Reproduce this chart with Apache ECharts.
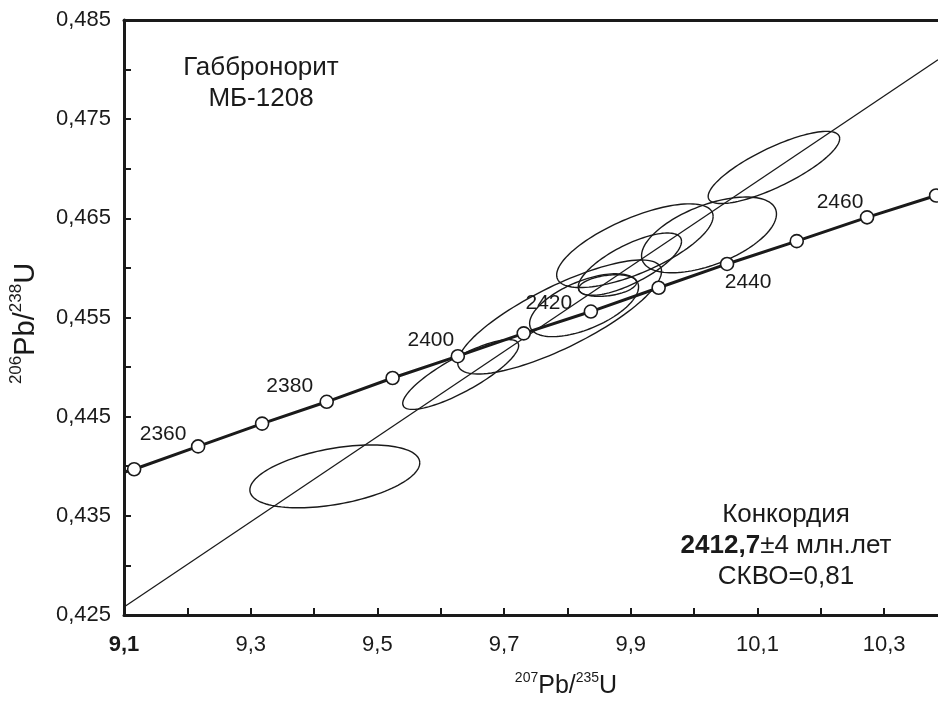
<!DOCTYPE html>
<html>
<head>
<meta charset="utf-8">
<script src="https://cdn.jsdelivr.net/npm/echarts@6/dist/echarts.min.js"></script>
<style>
  html, body { margin: 0; padding: 0; background: #fff; }
  #chart { width: 938px; height: 704px; }
</style>
</head>
<body>
<div id="chart"></div>
<script>
// Tick labels on the axes
const xTicks = [9.1, 9.3, 9.5, 9.7, 9.9, 10.1, 10.3];
const yTicks = [0.425, 0.435, 0.445, 0.455, 0.465, 0.475, 0.485];

// Concordia: ages (Ma) and isotope ratios of the 10 Ma markers
const ages       = [2350, 2360, 2370, 2380, 2390, 2400, 2410, 2420, 2430, 2440, 2450, 2460, 2470];
const concordiaX = [9.116, 9.217, 9.318, 9.420, 9.524, 9.627, 9.731, 9.837, 9.944, 10.052, 10.162, 10.273, 10.382];
const concordiaY = [0.4397, 0.4420, 0.4443, 0.4465, 0.4489, 0.4511, 0.4534, 0.4556, 0.4580, 0.4604, 0.4627, 0.4651, 0.4673];
// where the curve meets the left frame
const concordiaEdge = [9.1, 0.4394];
// ages that carry a label
const labelledAges = [2360, 2380, 2400, 2420, 2440, 2460];

// Analyses: 207Pb/235U, 2σ, 206Pb/238U, 2σ, error correlation
const ellipseX   = [9.4328, 10.126, 9.9065, 10.0235, 9.8986, 9.8634, 9.8263, 9.7877, 9.6315];
const ellipseSX  = [0.1341, 0.1038, 0.1235, 0.1065, 0.0815, 0.0457, 0.0860, 0.1609, 0.0915];
const ellipseY   = [0.43898, 0.47013, 0.46224, 0.46333, 0.46038, 0.45822, 0.45624, 0.45505, 0.44925];
const ellipseSY  = [0.00317, 0.00364, 0.00422, 0.00382, 0.00314, 0.00109, 0.00317, 0.00575, 0.00352];
const ellipseRho = [0.43, 0.80, 0.70, 0.55, 0.73, 0.30, 0.58, 0.80, 0.83];

// Regression line through the analyses
const regressionX = [9.1, 10.385];
const regressionY = [0.4258, 0.4810];

// Label placement for the age markers (pixel offsets from the marker)
const ageLabelOffset = {
  2360: [-35, -12], 2380: [-37, -16], 2400: [-27, -16],
  2420: [-42, -8], 2440: [21, 18], 2460: [-27, -15]
};

const FONT = '"Liberation Sans", Arial, Helvetica, sans-serif';
const INK = '#1a1a1a';

const near = (a, b) => Math.abs(a - b) < 1e-7;

const concordiaData = [{ value: concordiaEdge, symbol: 'none' }].concat(
  ages.map((age, i) => {
    const item = { value: [concordiaX[i], concordiaY[i]] };
    if (labelledAges.includes(age)) {
      item.label = {
        show: true,
        position: 'inside',
        offset: ageLabelOffset[age],
        formatter: String(age),
        color: INK,
        fontSize: 21,
        fontFamily: FONT
      };
    }
    return item;
  })
);

const ellipseData = ellipseX.map((x, i) => [x, ellipseSX[i], ellipseY[i], ellipseSY[i], ellipseRho[i]]);

const supRichX = {
  sup: { fontSize: 14, lineHeight: 16, verticalAlign: 'top', fontFamily: FONT, color: INK },
  base: { fontSize: 25, lineHeight: 28, verticalAlign: 'bottom', fontFamily: FONT, color: INK }
};
const supRichY = {
  sup: { fontSize: 17, lineHeight: 18, verticalAlign: 'top', fontFamily: FONT, color: INK },
  base: { fontSize: 29, lineHeight: 32, verticalAlign: 'bottom', fontFamily: FONT, color: INK }
};

const chart = echarts.init(document.getElementById('chart'), null, { renderer: 'canvas' });

chart.setOption({
  animation: false,
  backgroundColor: '#ffffff',
  grid: { left: 122, right: 0, top: 20, bottom: 79 },
  xAxis: [
    {
      type: 'value',
      min: 9.1,
      max: 10.385,
      interval: 0.1,
      position: 'bottom',
      axisLine: { show: true, onZero: false, lineStyle: { color: INK, width: 3 } },
      axisTick: { show: true, inside: true, length: 7, lineStyle: { color: INK, width: 2 } },
      splitLine: { show: false },
      axisLabel: {
        margin: 19,
        color: INK,
        fontSize: 22,
        fontFamily: FONT,
        showMaxLabel: false,
        formatter: v => {
          const t = xTicks.find(t => near(t, v));
          if (t === undefined) return '';
          const s = t.toFixed(1).replace('.', ',');
          return near(t, xTicks[0]) ? '{b|' + s + '}' : s;
        },
        rich: { b: { fontWeight: 'bold', fontSize: 22, fontFamily: FONT, color: INK } }
      },
      name: '{sup|207}{base|Pb/}{sup|235}{base|U}',
      nameLocation: 'middle',
      nameGap: 56,
      nameTextStyle: { padding: [0, 0, 0, 70], rich: supRichX }
    },
    {
      type: 'value',
      min: 9.1,
      max: 10.385,
      position: 'top',
      axisLine: { show: true, onZero: false, lineStyle: { color: INK, width: 3 } },
      axisTick: { show: false },
      axisLabel: { show: false },
      splitLine: { show: false }
    }
  ],
  yAxis: {
    type: 'value',
    min: 0.425,
    max: 0.485,
    interval: 0.005,
    axisLine: { show: true, onZero: false, lineStyle: { color: INK, width: 3 } },
    axisTick: { show: true, inside: true, length: 7, lineStyle: { color: INK, width: 2 } },
    splitLine: { show: false },
    axisLabel: {
      margin: 13,
      color: INK,
      fontSize: 22,
      fontFamily: FONT,
      formatter: v => {
        const t = yTicks.find(t => near(t, v));
        return t === undefined ? '' : t.toFixed(3).replace('.', ',');
      }
    },
    name: '{sup|206}{base|Pb/}{sup|238}{base|U}',
    nameLocation: 'middle',
    nameRotate: 90,
    nameGap: 84,
    nameTextStyle: { padding: [0, 12, 0, 0], rich: supRichY }
  },
  series: [
    {
      name: 'regression',
      type: 'line',
      data: regressionX.map((x, i) => [x, regressionY[i]]),
      symbol: 'none',
      lineStyle: { color: INK, width: 1.3 },
      silent: true,
      z: 2
    },
    {
      name: 'analyses',
      type: 'custom',
      data: ellipseData,
      encode: { x: 0, y: 2 },
      clip: true,
      z: 3,
      renderItem: (params, api) => {
        const cx = api.value(0), sx = api.value(1), cy = api.value(2), sy = api.value(3), r = api.value(4);
        const k = Math.sqrt(1 - r * r);
        const pts = [];
        const n = 120;
        for (let i = 0; i <= n; i++) {
          const t = (i / n) * Math.PI * 2;
          const x = cx + sx * Math.cos(t);
          const y = cy + sy * (r * Math.cos(t) + k * Math.sin(t));
          pts.push(api.coord([x, y]));
        }
        return {
          type: 'polyline',
          shape: { points: pts },
          style: { stroke: INK, fill: null, lineWidth: 1.4 }
        };
      }
    },
    {
      name: 'concordia',
      type: 'line',
      data: concordiaData,
      symbol: 'circle',
      symbolSize: 13,
      showAllSymbol: true,
      itemStyle: { color: '#ffffff', borderColor: INK, borderWidth: 1.6 },
      lineStyle: { color: INK, width: 3 },
      clip: true,
      z: 5
    }
  ],
  graphic: [
    {
      type: 'text',
      x: 261,
      y: 52,
      style: {
        text: 'Габбронорит\nМБ-1208',
        align: 'center',
        textAlign: 'center',
        verticalAlign: 'top',
        fontSize: 26,
        lineHeight: 31,
        fontFamily: FONT,
        fill: INK
      }
    },
    {
      type: 'text',
      x: 786,
      y: 499,
      style: {
        text: 'Конкордия\n{b|2412,7}±4 млн.лет\nСКВО=0,81',
        align: 'center',
        textAlign: 'center',
        verticalAlign: 'top',
        fontSize: 26,
        lineHeight: 31,
        fontFamily: FONT,
        fill: INK,
        rich: {
          b: { fontWeight: 'bold', fontSize: 26, fontFamily: FONT, fill: INK, lineHeight: 31 }
        }
      }
    }
  ]
});
</script>
</body>
</html>
